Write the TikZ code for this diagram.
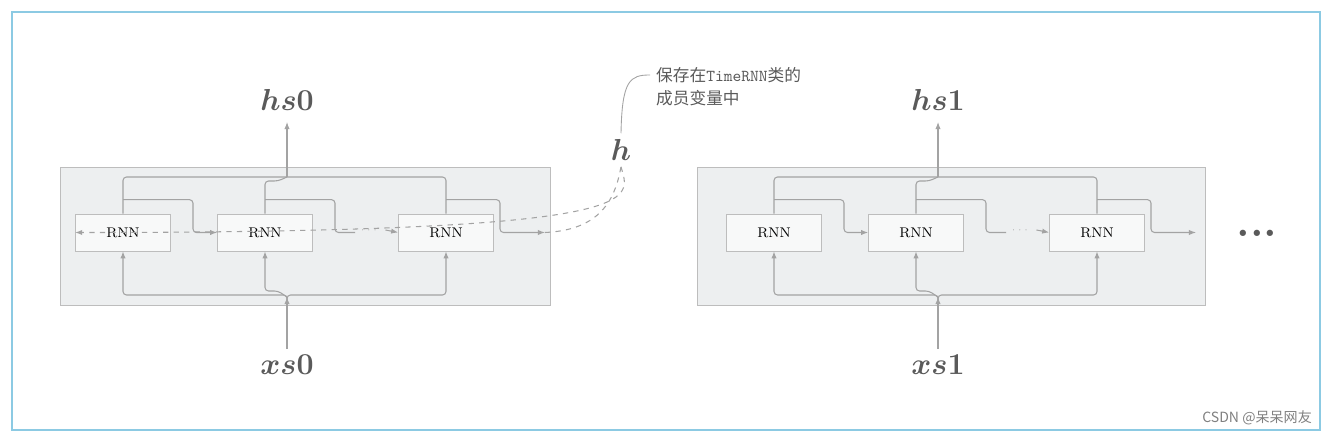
\documentclass[tikz,border=0pt]{standalone}
\usepackage{amsmath,amssymb,bm}
\usepackage{fontspec}
\newfontfamily\cjk{Noto Sans CJK SC}
\usetikzlibrary{positioning,calc,arrows.meta}
\definecolor{lineg}{HTML}{A3A3A3}
\definecolor{boxg}{HTML}{EDEFF0}
\definecolor{edgeg}{HTML}{BDBDBD}
\definecolor{textg}{HTML}{5A5A5A}
\begin{document}
\begin{tikzpicture}[x=0.02cm,y=-0.02cm,
    rnn/.style={draw=edgeg,fill=white!60!boxg,minimum width=1.9cm,minimum height=0.74cm,inner sep=0pt,font=\fontsize{8}{9}\selectfont},
    big/.style={text=textg,font=\fontsize{17}{18}\selectfont},
    wire/.style={lineg,line width=0.6pt,rounded corners=2pt},
    arr/.style={wire,-{Latex[length=4pt,width=3pt]}}]
    \useasboundingbox (0,0) rectangle (1328,438);
    \draw[cyan!60!teal!50,line width=0.6pt] (12,12) rectangle (1320,430);

    % blocks
    \draw[edgeg,fill=boxg] (60,167) rectangle (550,305);
    \draw[edgeg,fill=boxg] (697,167) rectangle (1205,305);

    \foreach \b/\dx in {0/0,1/651}{
        \node[rnn] (r1\b) at (123+\dx,232.5) {RNN};
        \node[rnn] (r2\b) at (265+\dx,232.5) {RNN};
        \node[rnn] (r3\b) at (446+\dx,232.5) {RNN};
        \node[big] (hs\b) at (287+\dx,100) {$\bm{hs\b}$};
        \node[big] (xs\b) at (287+\dx,365) {$\bm{xs\b}$};
        \coordinate (out\b) at (287+\dx,122);
        \coordinate (in\b) at (287+\dx,297);
        \coordinate (nx\b) at (545+\dx,232.5);

        % outputs
        \draw[wire] (r1\b.north) |- (287+\dx,177) -| (r3\b.north);
        \draw[wire] (r2\b.north) |- (278+\dx,181) -- (287+\dx,177);
        \draw[arr] (287+\dx,177) -- (out\b);
        % inputs
        \draw[arr] (xs\b.north) -- (in\b);
        \draw[arr] (in\b) -- (287+\dx,295) -| (r1\b.south);
        \draw[arr] (in\b) -- (287+\dx,295) -| (r3\b.south);
        \draw[arr] (in\b) -- (278+\dx,291) -| (r2\b.south);
        % hidden states
        \draw[arr] (r1\b.north) ++(0,-14) -| (193+\dx,232.5) -- (r2\b.west);
        \draw[wire] (r2\b.north) ++(0,-14) -| (335+\dx,232.5) -- (355+\dx,232.5);
        \node[lineg,font=\tiny] (dots\b) at (370+\dx,230) {$\cdots$};
        \draw[arr] (dots\b.east) -- (r3\b.west);
        \draw[arr] (r3\b.north) ++(0,-14) -| (500+\dx,232.5) -- (nx\b);
    }

    \node[big] (h) at (621,150) {$\bm{h}$};
    \draw[lineg,dashed,line width=0.6pt] (nx0) .. controls (600,230) and (615,200) .. (h.south);
    \draw[lineg,dashed,line width=0.6pt,-{Latex[length=4pt,width=3pt]}] (h.south) .. controls (630,200) and (660,232.5) .. (r10.west);

    \node[textg,anchor=west,align=left,font=\cjk\fontsize{9.5}{13}\selectfont] (note) at (650,87)
        {保存在{\ttfamily TimeRNN}类的\\成员变量中};
    \draw[lineg,line width=0.5pt] (h.north) .. controls (622,80) and (630,75) .. (650,75);

    \node[textg,font=\Huge\bfseries] (more) at (1257,233) {...};
    \node[gray,anchor=east,font=\cjk\fontsize{8}{9}\selectfont] (wm) at (1318,418) {CSDN @呆呆网友};
\end{tikzpicture}
\end{document}
